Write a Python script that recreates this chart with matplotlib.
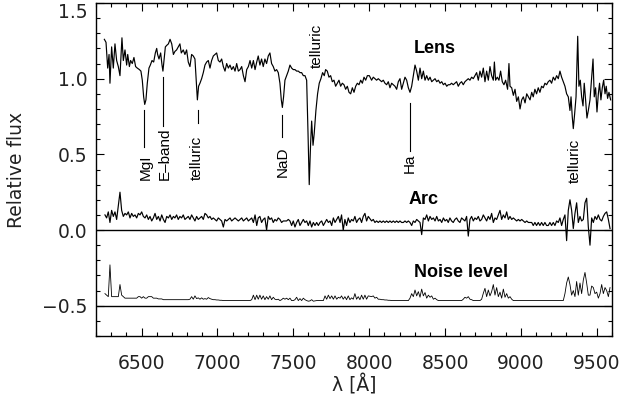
import matplotlib
matplotlib.use("Agg")
import matplotlib.pyplot as plt
from matplotlib.ticker import MultipleLocator

# ---------------- data ----------------
lens_wave = [6255, 6266, 6277, 6286, 6292, 6303, 6314, 6325, 6336, 6347, 6358, 6371, 6380, 6391, 6402, 6409,
             6420, 6428, 6439, 6450, 6461, 6472, 6486, 6496, 6505, 6514, 6521, 6529, 6538, 6549, 6558, 6569,
             6580, 6591, 6600, 6606, 6615, 6626, 6635, 6641, 6648, 6657, 6666, 6677, 6688, 6699, 6710, 6720,
             6731, 6742, 6753, 6762, 6775, 6786, 6797, 6808, 6819, 6830, 6841, 6852, 6859, 6868, 6876, 6885,
             6896, 6907, 6918, 6929, 6940, 6951, 6962, 6973, 6984, 6995, 7006, 7017, 7028, 7039, 7050, 7061,
             7072, 7083, 7094, 7105, 7116, 7127, 7138, 7149, 7160, 7171, 7182, 7193, 7204, 7215, 7226, 7237,
             7248, 7259, 7269, 7280, 7291, 7302, 7313, 7324, 7335, 7346, 7357, 7368, 7379, 7390, 7401, 7412,
             7421, 7428, 7436, 7445, 7456, 7467, 7478, 7489, 7500, 7511, 7522, 7533, 7544, 7555, 7566, 7577,
             7588, 7597, 7605, 7614, 7621, 7630, 7638, 7649, 7660, 7671, 7682, 7693, 7704, 7713, 7724, 7735,
             7746, 7757, 7768, 7779, 7790, 7801, 7812, 7823, 7834, 7845, 7856, 7867, 7878, 7889, 7900, 7911,
             7922, 7933, 7944, 7955, 7966, 7977, 7988, 8001, 8016, 8027, 8038, 8049, 8060, 8071, 8082, 8093,
             8104, 8115, 8126, 8137, 8148, 8159, 8170, 8181, 8192, 8203, 8214, 8225, 8236, 8247, 8258, 8269,
             8280, 8291, 8302, 8313, 8324, 8335, 8346, 8357, 8368, 8379, 8390, 8401, 8412, 8423, 8434, 8445,
             8456, 8467, 8478, 8489, 8500, 8511, 8521, 8532, 8543, 8554, 8565, 8576, 8587, 8598, 8609, 8620,
             8631, 8642, 8653, 8664, 8675, 8686, 8697, 8708, 8719, 8730, 8741, 8752, 8763, 8774, 8785, 8796,
             8807, 8818, 8825, 8833, 8844, 8855, 8866, 8877, 8888, 8899, 8912, 8921, 8928, 8939, 8950, 8961,
             8972, 8983, 8994, 9005, 9016, 9027, 9038, 9049, 9060, 9071, 9081, 9092, 9103, 9114, 9125, 9136,
             9147, 9158, 9169, 9180, 9191, 9202, 9213, 9224, 9235, 9246, 9257, 9268, 9279, 9290, 9301, 9312,
             9323, 9330, 9338, 9345, 9354, 9363, 9374, 9382, 9391, 9400, 9409, 9417, 9426, 9435, 9444, 9455,
             9466, 9475, 9483, 9492, 9501, 9510, 9518, 9527, 9536, 9545, 9554, 9562, 9571, 9580, 9591]
lens_flux = [1.26, 1.24, 1.07, 1.16, 0.97, 1.21, 1.07, 1.23, 1.12, 1.08, 1.02, 1.27, 1.12, 1.19, 1.09, 1.16,
             1.08, 1.12, 1.10, 1.14, 1.08, 1.07, 1.06, 1.05, 0.99, 0.88, 0.83, 0.86, 0.97, 1.07, 1.09, 1.12,
             1.11, 1.17, 1.20, 1.16, 1.13, 1.17, 1.09, 1.05, 1.12, 1.21, 1.22, 1.23, 1.26, 1.23, 1.16, 1.18,
             1.19, 1.21, 1.23, 1.17, 1.19, 1.16, 1.19, 1.11, 1.08, 1.16, 1.15, 1.13, 1.01, 0.86, 0.95, 0.97,
             1.00, 1.04, 1.09, 1.11, 1.12, 1.07, 1.12, 1.15, 1.16, 1.17, 1.12, 1.11, 1.13, 1.08, 1.05, 1.10,
             1.07, 1.09, 1.06, 1.08, 1.05, 1.10, 1.05, 1.06, 1.08, 1.02, 0.98, 1.06, 1.08, 1.12, 1.07, 1.12,
             1.06, 1.11, 1.15, 1.09, 1.13, 1.08, 1.13, 1.10, 1.15, 1.17, 1.10, 1.08, 1.05, 1.06, 1.04, 0.97,
             0.86, 0.81, 0.88, 0.99, 1.02, 1.05, 1.09, 1.07, 1.06, 1.06, 1.05, 1.05, 1.04, 1.04, 1.02, 1.02,
             0.99, 0.64, 0.30, 0.57, 0.72, 0.56, 0.64, 0.79, 0.90, 0.97, 1.00, 1.04, 1.02, 1.06, 1.05, 1.01,
             1.02, 0.98, 0.99, 0.95, 0.97, 0.99, 0.95, 0.97, 0.96, 0.93, 0.95, 0.91, 0.90, 0.94, 0.91, 0.95,
             0.97, 0.96, 0.99, 0.97, 1.01, 0.99, 1.02, 1.02, 0.99, 1.01, 1.00, 0.99, 1.00, 0.99, 0.98, 0.99,
             0.97, 0.96, 0.98, 0.94, 0.97, 0.96, 0.95, 0.93, 0.98, 1.00, 0.93, 0.97, 1.01, 0.99, 0.94, 0.91,
             0.95, 1.02, 1.09, 1.05, 0.99, 1.07, 1.00, 1.05, 0.99, 1.02, 0.99, 1.01, 0.98, 0.99, 1.00, 0.98,
             0.99, 0.97, 0.98, 0.96, 0.97, 0.95, 0.96, 0.96, 0.97, 0.96, 0.97, 0.98, 0.95, 0.97, 0.98, 0.96,
             0.98, 0.99, 1.00, 0.99, 1.01, 1.00, 1.02, 1.04, 0.99, 1.05, 1.01, 1.07, 0.98, 1.05, 0.99, 1.08,
             1.02, 0.99, 1.11, 0.99, 1.01, 0.99, 1.05, 0.98, 0.96, 0.99, 0.93, 1.10, 0.95, 0.94, 0.89, 0.93,
             0.85, 0.88, 0.80, 0.86, 0.88, 0.84, 0.90, 0.88, 0.86, 0.91, 0.88, 0.93, 0.90, 0.94, 0.91, 0.95,
             0.94, 0.97, 0.96, 0.98, 0.99, 0.97, 1.01, 0.99, 1.02, 1.00, 1.05, 1.01, 0.98, 0.95, 0.90, 0.88,
             0.79, 0.88, 0.75, 0.67, 0.77, 0.88, 1.28, 0.95, 0.99, 0.88, 0.82, 0.97, 0.86, 0.74, 0.79, 0.86,
             1.01, 1.13, 0.88, 0.94, 0.78, 0.90, 0.97, 0.86, 0.94, 0.99, 0.90, 0.95, 0.87, 0.91, 0.86]

# common sampling grid for the arc and noise spectra
an_wave = [6259, 6270, 6281, 6292, 6303, 6314, 6325, 6336, 6347, 6358, 6369, 6380, 6391, 6402, 6413, 6424,
           6435, 6446, 6457, 6468, 6479, 6490, 6501, 6512, 6523, 6534, 6545, 6556, 6567, 6578, 6589, 6600,
           6611, 6622, 6633, 6644, 6655, 6666, 6677, 6688, 6699, 6710, 6720, 6731, 6742, 6753, 6764, 6775,
           6786, 6797, 6808, 6819, 6830, 6841, 6852, 6863, 6874, 6885, 6896, 6907, 6918, 6929, 6940, 6951,
           6962, 6973, 6984, 6995, 7006, 7017, 7028, 7039, 7050, 7061, 7072, 7083, 7094, 7105, 7116, 7127,
           7138, 7149, 7160, 7171, 7182, 7193, 7204, 7215, 7226, 7237, 7248, 7259, 7269, 7280, 7291, 7302,
           7313, 7324, 7335, 7346, 7357, 7368, 7379, 7390, 7401, 7412, 7423, 7434, 7445, 7456, 7467, 7478,
           7489, 7500, 7511, 7522, 7533, 7544, 7555, 7566, 7577, 7588, 7599, 7610, 7621, 7632, 7643, 7654,
           7665, 7676, 7687, 7698, 7709, 7720, 7731, 7742, 7753, 7764, 7775, 7786, 7797, 7808, 7818, 7829,
           7840, 7851, 7862, 7873, 7884, 7895, 7906, 7917, 7928, 7939, 7950, 7961, 7972, 7983, 7994,
           8016, 8027, 8038, 8049, 8060, 8071, 8082, 8093, 8104, 8115, 8126, 8137, 8148, 8159, 8170, 8181,
           8192, 8203, 8214, 8225, 8236, 8247, 8258, 8269, 8280, 8291, 8302, 8313, 8324, 8335, 8346, 8357,
           8368, 8379, 8390, 8401, 8412, 8423, 8434, 8445, 8456, 8467, 8478, 8489, 8500, 8511, 8521, 8532,
           8543, 8554, 8565, 8576, 8587, 8598, 8609, 8620, 8631, 8642, 8653, 8664, 8675, 8686, 8697, 8708,
           8719, 8730, 8741, 8752, 8763, 8774, 8785, 8796, 8807, 8818, 8829, 8840, 8851, 8862, 8873, 8884,
           8895, 8906, 8917, 8928, 8939, 8950, 8961, 8972, 8983, 8994, 9005, 9016, 9027, 9038, 9049, 9060,
           9071, 9081, 9092, 9103, 9114, 9125, 9136, 9147, 9158, 9169, 9180, 9191, 9202, 9213, 9224, 9235,
           9246, 9257, 9268, 9279, 9290, 9301, 9312, 9323, 9334, 9345, 9356, 9367, 9378, 9389, 9400, 9411,
           9422, 9433, 9444, 9455, 9466, 9477, 9488, 9499, 9510, 9521, 9532, 9543, 9554, 9565, 9576, 9587]

arc_flux = [0.10, 0.08, 0.12, 0.05, 0.13, 0.09, 0.12, 0.07, 0.16, 0.25, 0.13, 0.09, 0.11, 0.10, 0.12, 0.08,
            0.11, 0.09, 0.10, 0.08, 0.11, 0.10, 0.12, 0.09, 0.08, 0.10, 0.07, 0.09, 0.06, 0.08, 0.11, 0.07,
            0.09, 0.06, 0.10, 0.07, 0.05, 0.09, 0.08, 0.10, 0.07, 0.09, 0.08, 0.10, 0.07, 0.09, 0.08, 0.10,
            0.07, 0.08, 0.09, 0.07, 0.10, 0.08, 0.06, 0.09, 0.07, 0.08, 0.09, 0.07, 0.11, 0.10, 0.08, 0.09,
            0.07, 0.08, 0.07, 0.06, 0.08, 0.07, 0.06, 0.02, 0.07, 0.06, 0.07, 0.08, 0.06, 0.07, 0.08, 0.07,
            0.06, 0.07, 0.08, 0.06, 0.07, 0.08, 0.06, 0.07, 0.08, 0.05, 0.10, 0.03, 0.08, 0.09, 0.05, 0.07,
            0.08, 0.00, 0.09, 0.07, 0.08, 0.05, 0.07, 0.06, 0.08, 0.07, 0.05, 0.06, 0.06, 0.06, 0.07, 0.06,
            0.03, 0.06, 0.02, 0.05, 0.07, 0.03, 0.05, 0.07, 0.05, 0.06, 0.03, 0.06, 0.02, 0.05, 0.03, 0.05,
            0.03, 0.05, 0.06, 0.03, 0.05, 0.07, 0.05, 0.06, 0.03, 0.08, 0.05, 0.07, 0.09, 0.05, 0.10, 0.00,
            0.07, 0.03, 0.08, 0.05, 0.07, 0.06, 0.09, 0.05, 0.07, 0.08, 0.05, 0.09, 0.11, 0.06, 0.09,
            0.06, 0.07, 0.05, 0.06, 0.05, 0.06, 0.05, 0.06, 0.05, 0.06, 0.05, 0.06, 0.05, 0.06, 0.05, 0.06,
            0.05, 0.06, 0.05, 0.05, 0.06, 0.05, 0.06, 0.05, 0.03, 0.06, 0.05, 0.07, 0.06, 0.05, -0.03, 0.08,
            0.07, 0.10, 0.06, 0.09, 0.07, 0.08, 0.06, 0.09, 0.06, 0.07, 0.05, 0.08, 0.06, 0.07, 0.05, 0.08,
            0.06, 0.05, 0.07, 0.08, 0.06, 0.05, 0.08, 0.07, 0.06, 0.09, -0.04, 0.07, 0.09, 0.06, 0.08, 0.07,
            0.09, 0.06, 0.07, 0.10, 0.08, 0.06, 0.09, 0.07, 0.11, 0.05, 0.08, 0.07, 0.10, 0.13, 0.07, 0.10,
            0.08, 0.12, 0.07, 0.09, 0.07, 0.08, 0.07, 0.06, 0.07, 0.06, 0.07, 0.06, 0.05, 0.06, 0.05, 0.05,
            0.05, 0.03, 0.05, 0.03, 0.05, 0.03, 0.05, 0.03, 0.05, 0.03, 0.03, 0.05, 0.03, 0.05, 0.03, 0.06,
            0.05, 0.08, 0.03, 0.07, 0.10, -0.07, 0.13, 0.20, 0.13, 0.01, 0.11, 0.18, 0.05, 0.09, 0.06, 0.07,
            0.18, 0.21, 0.02, -0.10, 0.08, 0.05, 0.09, 0.07, 0.10, 0.07, 0.06, 0.09, 0.11, 0.12, 0.07, 0.01]

noise_flux = [-0.42, -0.43, -0.44, -0.23, -0.44, -0.44, -0.44, -0.44, -0.44, -0.36, -0.43, -0.44, -0.45, -0.45, -0.45, -0.45,
              -0.45, -0.45, -0.45, -0.45, -0.44, -0.44, -0.45, -0.44, -0.45, -0.45, -0.44, -0.44, -0.44, -0.45, -0.45, -0.45,
              -0.455, -0.455, -0.455, -0.46, -0.46, -0.46, -0.46, -0.46, -0.46, -0.46, -0.46, -0.46, -0.46, -0.46, -0.46, -0.46,
              -0.46, -0.46, -0.46, -0.457, -0.44, -0.457, -0.435, -0.453, -0.448, -0.457, -0.448, -0.457, -0.453, -0.457, -0.446, -0.453,
              -0.457, -0.46, -0.46, -0.462, -0.462, -0.464, -0.464, -0.466, -0.466, -0.466, -0.466, -0.466, -0.466, -0.466, -0.466, -0.466,
              -0.466, -0.466, -0.466, -0.466, -0.466, -0.466, -0.466, -0.466, -0.46, -0.43, -0.46, -0.43, -0.457, -0.43, -0.457, -0.435,
              -0.46, -0.44, -0.457, -0.435, -0.46, -0.444, -0.457, -0.46, -0.457, -0.466, -0.46, -0.45, -0.457, -0.45, -0.46, -0.45,
              -0.466, -0.466, -0.46, -0.444, -0.466, -0.453, -0.466, -0.45, -0.46, -0.466, -0.47, -0.468, -0.46, -0.47, -0.468, -0.466,
              -0.466, -0.466, -0.466, -0.466, -0.435, -0.457, -0.43, -0.453, -0.435, -0.457, -0.435, -0.457, -0.444, -0.45, -0.435, -0.457,
              -0.44, -0.46, -0.435, -0.46, -0.448, -0.457, -0.42, -0.457, -0.44, -0.46, -0.43, -0.457, -0.43, -0.457, -0.435,
              -0.44, -0.435, -0.45, -0.444, -0.457, -0.457, -0.46, -0.46, -0.462, -0.462, -0.464, -0.464, -0.466, -0.466, -0.466, -0.466,
              -0.466, -0.466, -0.466, -0.466, -0.466, -0.466, -0.466, -0.45, -0.42, -0.44, -0.396, -0.435, -0.407, -0.444, -0.39, -0.435,
              -0.413, -0.45, -0.43, -0.444, -0.435, -0.457, -0.45, -0.46, -0.466, -0.466, -0.466, -0.466, -0.466, -0.466, -0.466, -0.466,
              -0.466, -0.466, -0.466, -0.466, -0.466, -0.466, -0.466, -0.457, -0.444, -0.45, -0.44, -0.457, -0.46, -0.466, -0.466, -0.466,
              -0.466, -0.466, -0.457, -0.418, -0.385, -0.44, -0.396, -0.435, -0.407, -0.36, -0.43, -0.38, -0.44, -0.41, -0.45, -0.39,
              -0.444, -0.42, -0.45, -0.44, -0.457, -0.466, -0.466, -0.466, -0.466, -0.466, -0.466, -0.466, -0.466, -0.466, -0.466, -0.466,
              -0.466, -0.466, -0.466, -0.466, -0.466, -0.466, -0.466, -0.466, -0.466, -0.466, -0.466, -0.466, -0.466, -0.466, -0.466, -0.466,
              -0.466, -0.466, -0.466, -0.466, -0.42, -0.35, -0.31, -0.36, -0.43, -0.40, -0.44, -0.34, -0.43, -0.35, -0.42, -0.33,
              -0.28, -0.35, -0.43, -0.43, -0.37, -0.38, -0.42, -0.41, -0.45, -0.42, -0.36, -0.42, -0.38, -0.40, -0.44, -0.38]

baselines = [0.0, -0.5]

# line identifications
id_labels = ["MgI", "E\u2013band", "telluric", "NaD", "telluric", "Ha", "telluric"]
id_label_x = [6531, 6654, 6865, 7430, 7654, 8270, 9356]
id_label_y = [0.33, 0.33, 0.33, 0.35, 1.07, 0.38, 0.31]
mark_x = [6517, 6640, 6872, 7426, None, 8269, None]
mark_y0 = [0.55, 0.69, 0.71, 0.615, None, 0.52, None]
mark_y1 = [0.79, 1.01, 0.79, 0.76, None, 0.84, None]

panel_names = ["Lens", "Arc", "Noise level"]
panel_x = [8434, 8361, 8602]
panel_y = [1.20, 0.20, -0.28]

x_ticks = [6500, 7000, 7500, 8000, 8500, 9000, 9500]
y_ticks = [-0.5, 0.0, 0.5, 1.0, 1.5]
y_tick_labels = ['\u22120.5', '0.0', '0.5', '1.0', '1.5']

# ---------------- plot ----------------
plt.rcParams['font.family'] = ['DejaVu Sans']
fig = plt.figure(figsize=(6.23, 4.03), dpi=100)
ax = fig.add_axes([96 / 623, 67 / 403, 516 / 623, 333 / 403])

ax.plot(lens_wave, lens_flux, color='black', lw=0.85)
ax.plot(an_wave, arc_flux, color='black', lw=0.85)
ax.plot(an_wave, noise_flux, color='black', lw=0.6)
for b in baselines:
    ax.axhline(b, color='black', lw=1.0)

for lab, lx, ly, mx, my0, my1 in zip(id_labels, id_label_x, id_label_y, mark_x, mark_y0, mark_y1):
    ax.text(lx, ly, lab, rotation=90, ha='center', va='bottom', fontsize=11,
            family='Liberation Sans', color='black')
    if mx is not None:
        ax.plot([mx, mx], [my0, my1], color='black', lw=0.8)

for name, px, py in zip(panel_names, panel_x, panel_y):
    ax.text(px, py, name, ha='center', va='center', fontsize=13, fontweight='bold',
            family='Liberation Sans', color='black')

ax.set_xlim(6200, 9600)
ax.set_ylim(-0.7, 1.5)
ax.xaxis.set_minor_locator(MultipleLocator(100))
ax.yaxis.set_minor_locator(MultipleLocator(0.1))
ax.set_xticks(x_ticks)
ax.set_yticks(y_ticks)
ax.set_yticklabels(y_tick_labels)
ax.tick_params(which='both', direction='in', top=True, right=True, color='black', width=0.8)
ax.tick_params(which='major', length=6)
ax.tick_params(which='minor', length=3)
ax.tick_params(axis='x', which='major', pad=13, labelsize=13.5, labelcolor='#222222')
ax.tick_params(axis='y', which='major', pad=6, labelsize=13.5, labelcolor='#222222')
ax.get_yticklabels()[-1].set_verticalalignment('top')
for sp in ax.spines.values():
    sp.set_linewidth(1.0)

ax.set_xlabel('\u03bb [\u00c5]', fontsize=13.5, color='#222222', labelpad=1)
ax.set_ylabel('Relative flux', fontsize=13.5, color='#222222', labelpad=12)

fig.savefig('out.png', dpi=100)
